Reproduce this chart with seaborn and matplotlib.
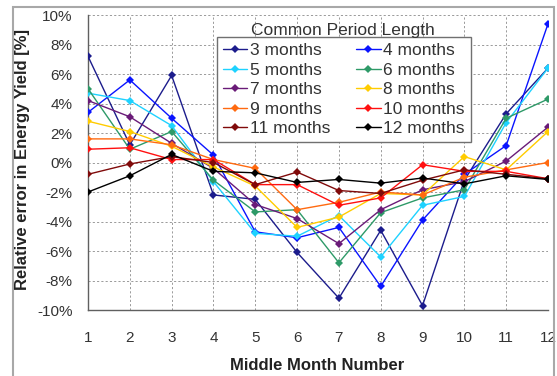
import matplotlib
matplotlib.use("Agg")
import matplotlib.pyplot as plt
import seaborn as sns
import pandas as pd
from matplotlib.ticker import FuncFormatter
from matplotlib.patches import Rectangle

months = [1, 2, 3, 4, 5, 6, 7, 8, 9, 10, 11, 12]
series_names = ["3 months", "4 months", "5 months", "6 months", "7 months",
                "8 months", "9 months", "10 months", "11 months", "12 months"]
m3 = [7.2, 1.2, 5.9, -2.2, -2.5, -6.1, -9.2, -4.6, -9.7, -1.2, 3.3, 6.4]
m4 = [3.4, 5.6, 3.0, 0.5, -4.7, -5.1, -4.4, -8.4, -3.9, -0.8, 1.15, 9.4]
m5 = [4.7, 4.2, 2.5, -1.3, -4.8, -5.0, -3.6, -6.4, -2.9, -2.3, 2.7, 6.4]
m6 = [5.0, 0.9, 2.1, -1.2, -3.35, -3.2, -6.8, -3.4, -2.4, -1.85, 3.0, 4.3]
m7 = [4.2, 3.1, 1.3, -0.4, -2.85, -3.8, -5.5, -3.2, -1.85, -1.3, 0.1, 2.4]
m8 = [2.8, 2.1, 1.1, -0.3, -1.6, -4.4, -3.7, -2.1, -2.2, 0.4, -0.5, 2.1]
m9 = [1.6, 1.6, 1.2, 0.2, -0.4, -3.2, -2.7, -2.0, -2.2, -1.0, -0.5, 0.0]
m10 = [0.9, 1.0, 0.2, 0.2, -1.5, -1.5, -2.9, -2.4, -0.15, -0.6, -0.6, -1.1]
m11 = [-0.8, -0.1, 0.4, 0.0, -1.5, -0.65, -1.9, -2.1, -1.2, -0.5, -0.8, -1.1]
m12 = [-2.0, -0.9, 0.55, -0.6, -0.7, -1.35, -1.15, -1.4, -1.05, -1.45, -0.9, -1.15]
all_values = [m3, m4, m5, m6, m7, m8, m9, m10, m11, m12]
colors = ["#1c1c8c", "#0a14ff", "#1ed2ff", "#2e9a68", "#6a1b78",
          "#ffcc00", "#ff6a10", "#ff1010", "#800a0a", "#000000"]
y_ticks = [-10, -8, -6, -4, -2, 0, 2, 4, 6, 8, 10]

sns.set_style("white")
plt.rcParams["font.family"] = ["Liberation Sans", "DejaVu Sans"]

W, H = 557, 376
fig = plt.figure(figsize=(W / 100, H / 100), dpi=100)
ax = fig.add_axes([88 / W, 1 - 310 / H, (548 - 88) / W, (310 - 15) / H])

rows = []
for name, vals in zip(series_names, all_values):
    for m, v in zip(months, vals):
        rows.append({"month": m, "err": v, "series": name})
df = pd.DataFrame(rows)

for name, col in zip(series_names, colors):
    sub = df[df["series"] == name]
    sns.lineplot(data=sub, x="month", y="err", color=col, marker="D",
                 markersize=4, markeredgewidth=0, linewidth=1.0, label=name,
                 ax=ax, zorder=3)

ax.set_xlim(1, 12)
ax.set_ylim(-10, 10)
ax.set_xticks(months)
ax.set_yticks(y_ticks)
ax.yaxis.set_major_formatter(FuncFormatter(lambda v, p: f"{int(round(v))}%"))
ax.grid(True, color="#9a9a9a", linestyle=(0, (2.2, 2.2)), linewidth=0.7)
ax.set_axisbelow(True)
for s in ["top", "right"]:
    ax.spines[s].set_visible(False)
for s in ["left", "bottom"]:
    ax.spines[s].set_color("#606060")
    ax.spines[s].set_linewidth(1.0)
ax.tick_params(axis="both", direction="out", length=4, width=0.9,
               color="#606060", labelsize=11, labelcolor="#333333")
ax.tick_params(axis="y", pad=7)
ax.tick_params(axis="x", pad=11)
ax.set_xlabel("")
ax.set_ylabel("")

handles, labels = ax.get_legend_handles_labels()
order = [0, 2, 4, 6, 8, 1, 3, 5, 7, 9]
leg = ax.legend([handles[i] for i in order], [labels[i] for i in order],
                ncol=2, loc="upper left", bbox_to_anchor=(0.28, 0.925),
                borderaxespad=0, fontsize=12.5, frameon=True, fancybox=False,
                edgecolor="#707070", framealpha=1, handlelength=1.4,
                handletextpad=0.15, columnspacing=1.5, labelspacing=0.25,
                borderpad=0.35)
leg.get_frame().set_linewidth(1.0)
leg.set_zorder(5)
for t in leg.get_texts():
    t.set_color("#333333")

fig.text(343 / W, 1 - 30 / H, "Common Period Length", ha="center", va="center",
         fontsize=12.5, color="#333333")
fig.text(22.5 / W, 1 - 160 / H, "Relative error in Energy Yield [%]",
         rotation=90, ha="center", va="center", fontsize=12, fontweight="bold",
         color="#222222")
fig.text(317.5 / W, 1 - 365 / H, "Middle Month Number", ha="center",
         va="center", fontsize=12, fontweight="bold", color="#222222")

fig.patches.append(Rectangle((13 / W, -0.05), (554 - 13) / W, 1 - 7 / H + 0.05,
                             transform=fig.transFigure, fill=False,
                             edgecolor="#a8a8a8", linewidth=1.5))

fig.savefig("out.png", dpi=100)
